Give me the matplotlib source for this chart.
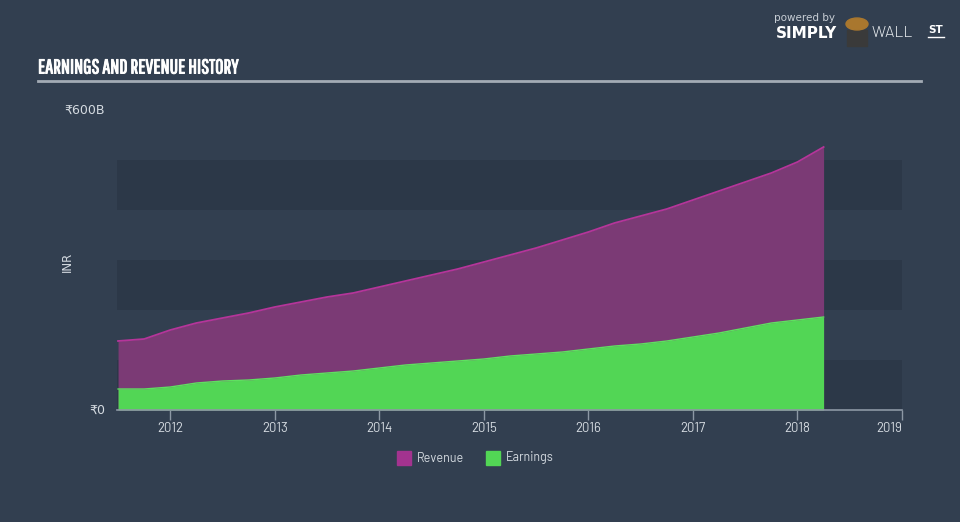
import matplotlib
matplotlib.use("Agg")
import matplotlib.pyplot as plt
from matplotlib.patches import Rectangle, Circle
import matplotlib.patheffects as pe
import numpy as np

# ---- data (INR billions) ----
years = [2011.5, 2011.75, 2012.0, 2012.25, 2012.5, 2012.75, 2013.0, 2013.25, 2013.5, 2013.75,
         2014.0, 2014.25, 2014.5, 2014.75, 2015.0, 2015.25, 2015.5, 2015.75, 2016.0, 2016.25,
         2016.5, 2016.75, 2017.0, 2017.25, 2017.5, 2017.75, 2018.0, 2018.25]
revenue = [138, 142, 160, 174, 184, 194, 206, 216, 226, 234,
           246, 258, 270, 282, 296, 310, 324, 340, 356, 374,
           388, 402, 420, 438, 456, 474, 496, 526]
earnings = [42, 42, 46, 54, 58, 60, 64, 70, 74, 78,
            84, 90, 94, 98, 102, 108, 112, 116, 122, 128,
            132, 138, 146, 154, 164, 174, 180, 186]
xticks = [2012, 2013, 2014, 2015, 2016, 2017, 2018, 2019]
ytick_vals = [0, 600]
ytick_labels = ["₹0", "₹600B"]

BG = "#323f50"
BAND = "#2c3848"
REV_FILL = "#7b3a75"
REV_LINE = "#b5359a"
EARN = "#52d655"
TXT = "#d5dbe1"
AXC = "#8d98a5"
UI = ["Barlow", "DejaVu Sans"]
UIR = ["DejaVu Sans"]

fig = plt.figure(figsize=(9.6, 5.22), dpi=100, facecolor=BG)
W, H = 960, 522
ax = fig.add_axes([117 / W, 1 - 410 / H, (902 - 117) / W, 300 / H])
ax.set_facecolor(BG)

x0, x1 = 2011.49, 2019.0
ax.set_xlim(x0, x1)
ax.set_ylim(0, 600)

# horizontal bands
for lo in (0, 200, 400):
    ax.axhspan(lo, lo + 100, color=BAND, zorder=0, lw=0)

ax.fill_between(years, revenue, 0, color=REV_FILL, lw=0, zorder=2)
ax.plot(years, revenue, color=REV_LINE, lw=1.3, zorder=3)
ax.fill_between(years, earnings, 0, color=EARN, lw=0, zorder=4)
ax.plot(years, earnings, color="#5fe060", lw=1.0, zorder=5)

for s in ("top", "right", "left"):
    ax.spines[s].set_visible(False)
ax.spines["bottom"].set_color(AXC)
ax.spines["bottom"].set_linewidth(1.2)
ax.spines["bottom"].set_zorder(6)

ax.set_xticks(xticks)
ax.set_xticklabels([str(t) for t in xticks], family=UI, fontweight=400)
ax.tick_params(axis="x", colors=AXC, length=7, width=1, direction="out", pad=2,
               labelcolor=TXT, labelsize=9.5)
lbls = ax.get_xticklabels()
lbls[-1].set_horizontalalignment("right")
ax.set_yticks([])

# y labels
for v, l in zip(ytick_vals, ytick_labels):
    ax.text(-0.015, v, l, transform=ax.get_yaxis_transform(), ha="right", va="center",
            color=TXT, fontsize=9, family=UIR)
fig.text(67 / W, 1 - 262 / H, "INR", rotation=90, ha="center", va="center", color=TXT,
         fontsize=8.5, family=UIR)

# title and rule
fig.text(38 / W, 1 - 68 / H, "EARNINGS AND REVENUE HISTORY", ha="left", va="center",
         color="white", fontsize=14.5,
         family=["Pathway Gothic One", "DejaVu Sans"],
         path_effects=[pe.withStroke(linewidth=0.7, foreground="white")])
fig.add_artist(plt.Line2D([38 / W, 921 / W], [1 - 81 / H, 1 - 81 / H], color="#a3abb5", lw=2))

# legend
for xs, col, name in ((397, "#a3338f", "Revenue"), (486, EARN, "Earnings")):
    fig.add_artist(Rectangle((xs / W, 1 - 465 / H), 14 / W, 14 / H, color=col,
                             transform=fig.transFigure))
    fig.text((xs + 20) / W, 1 - 458 / H, name, ha="left", va="center", color=TXT,
             fontsize=9, family=UI, fontweight=400)

# logo text
fig.text(805 / W, 1 - 18 / H, "powered by", ha="center", va="center", color="#c8ced5",
         fontsize=7.5, family=UIR)
fig.text(776 / W, 1 - 33 / H, "SIMPLY", ha="left", va="center", color="white", fontsize=11,
         fontweight="bold", family=UIR)
fig.text(872 / W, 1 - 33 / H, "WALL", ha="left", va="center", color="#e8ecef", fontsize=11.5,
         family=UI, fontweight=300)
fig.text(928 / W, 1 - 30 / H, "ST", ha="left", va="center", color="white", fontsize=7.5,
         fontweight="bold", family=UIR)
fig.add_artist(plt.Line2D([928 / W, 944 / W], [1 - 37 / H, 1 - 37 / H], color="white", lw=1))
fig.add_artist(Rectangle((847 / W, 1 - 46 / H), 20 / W, 16 / H, color="#3a3a3a",
                         transform=fig.transFigure))
fig.add_artist(Circle((857 / W, 1 - 24 / H), 11 / W, color="#a9772e",
                      transform=fig.transFigure))

fig.savefig("out.png", dpi=100, facecolor=BG)
